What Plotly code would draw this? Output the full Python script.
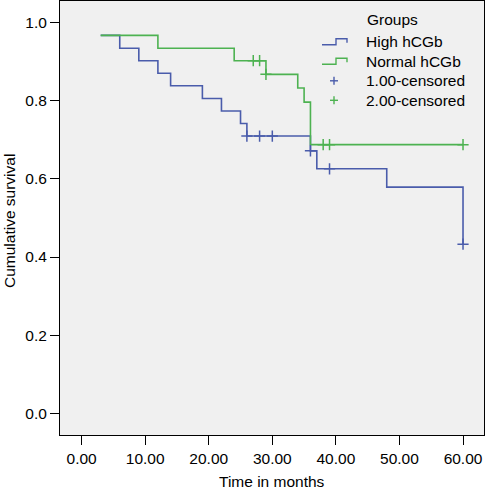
import plotly.graph_objects as go

# High hCGb (group 1) Kaplan-Meier steps
high_time = [3, 6, 9, 12, 14, 19, 22, 25, 26, 36, 37, 48, 60]
high_surv = [0.968, 0.935, 0.903, 0.871, 0.839, 0.806, 0.774, 0.742, 0.710, 0.672, 0.626, 0.579, 0.433]
high_cens_time = [26, 28, 30, 36, 39, 60]
high_cens_surv = [0.710, 0.710, 0.710, 0.672, 0.626, 0.433]

# Normal hCGb (group 2)
norm_time = [3, 12, 24, 29, 34, 35, 36, 60]
norm_surv = [0.968, 0.935, 0.903, 0.868, 0.833, 0.797, 0.688, 0.688]
norm_cens_time = [27, 28, 29, 38, 39, 60]
norm_cens_surv = [0.903, 0.903, 0.868, 0.688, 0.688, 0.688]

x_ticks = [0, 10, 20, 30, 40, 50, 60]
y_ticks = [0.0, 0.2, 0.4, 0.6, 0.8, 1.0]

legend_title = "Groups"
legend_names = ["High hCGb", "Normal hCGb", "1.00-censored", "2.00-censored"]

BLUE = "#4a5cab"
GREEN = "#4db251"
FONT = "Liberation Sans, Arial, Helvetica, sans-serif"
FS = 15.5

W, H = 488, 492
ML, MR, MT, MB = 60, 4, 1, 57
PW, PH = W - ML - MR, H - MT - MB


def px(x):
    return (x - ML) / PW


def py(y):
    return 1 - (y - MT) / PH


fig = go.Figure()
fig.add_trace(go.Scatter(x=high_time, y=high_surv, mode="lines", line=dict(color=BLUE, width=1.6, shape="hv"),
                         name=legend_names[0]))
fig.add_trace(go.Scatter(x=norm_time, y=norm_surv, mode="lines", line=dict(color=GREEN, width=1.6, shape="hv"),
                         name=legend_names[1]))
fig.add_trace(go.Scatter(x=high_cens_time, y=high_cens_surv, mode="markers",
                         marker=dict(symbol="cross-thin", size=8, line=dict(color=BLUE, width=1.5)),
                         name=legend_names[2]))
fig.add_trace(go.Scatter(x=norm_cens_time, y=norm_cens_surv, mode="markers",
                         marker=dict(symbol="cross-thin", size=8, line=dict(color=GREEN, width=1.5)),
                         name=legend_names[3]))

axis_common = dict(showgrid=False, zeroline=False, showline=True, linecolor="black", linewidth=1,
                   mirror=True, ticks="outside", ticklen=9, tickcolor="black", tickwidth=1, automargin=False,
                   tickfont=dict(family=FONT, size=FS, color="black"))

# hand-built legend (SPSS style) in paper coordinates
shapes = []
annotations = [dict(text=legend_title, xref="paper", yref="paper", x=px(365), y=py(20),
                    xanchor="left", yanchor="middle", showarrow=False, font=dict(family=FONT, size=FS))]
rows = [41.7, 61.2, 80.8, 100.3]
colors = [BLUE, GREEN, BLUE, GREEN]
for i, (name, yc, col) in enumerate(zip(legend_names, rows, colors)):
    annotations.append(dict(text=name, xref="paper", yref="paper", x=px(364), y=py(yc),
                            xanchor="left", yanchor="middle", showarrow=False,
                            font=dict(family=FONT, size=FS, color="black")))
    if i < 2:
        path = "M{},{} L{},{} L{},{} L{},{} L{},{}".format(
            px(322), py(yc + 3), px(336), py(yc + 3), px(336), py(yc - 3),
            px(347), py(yc - 3), px(347), py(yc + 1))
        shapes.append(dict(type="path", xref="paper", yref="paper", path=path,
                           line=dict(color=col, width=1.4)))
    else:
        shapes.append(dict(type="line", xref="paper", yref="paper", x0=px(330), x1=px(338), y0=py(yc), y1=py(yc),
                           line=dict(color=col, width=1.4)))
        shapes.append(dict(type="line", xref="paper", yref="paper", x0=px(334), x1=px(334), y0=py(yc - 4),
                           y1=py(yc + 4), line=dict(color=col, width=1.4)))

fig.update_layout(
    width=W, height=H,
    margin=dict(l=ML, r=MR, t=MT, b=MB),
    paper_bgcolor="white", plot_bgcolor="#f0f0f0",
    font=dict(family=FONT, size=FS, color="black"),
    xaxis=dict(range=[-3.4, 63.3], tickvals=x_ticks, tickformat=".2f", title=dict(text=""), **axis_common),
    yaxis=dict(range=[-0.056, 1.056], tickvals=y_ticks, tickformat=".1f", title=dict(text=""), **axis_common),
    showlegend=False,
    shapes=shapes,
)
annotations.append(dict(text="Time in months", xref="paper", yref="paper", x=px(272), y=py(481),
                        xanchor="center", yanchor="middle", showarrow=False, font=dict(family=FONT, size=FS)))
annotations.append(dict(text="Cumulative survival", xref="paper", yref="paper", x=px(9), y=py(221),
                        xanchor="center", yanchor="middle", textangle=-90, showarrow=False,
                        font=dict(family=FONT, size=FS)))
fig.update_layout(annotations=annotations)

fig.write_html("out.html", config={"displayModeBar": False},
               post_script="document.body.style.margin='0';document.body.style.padding='0';")
